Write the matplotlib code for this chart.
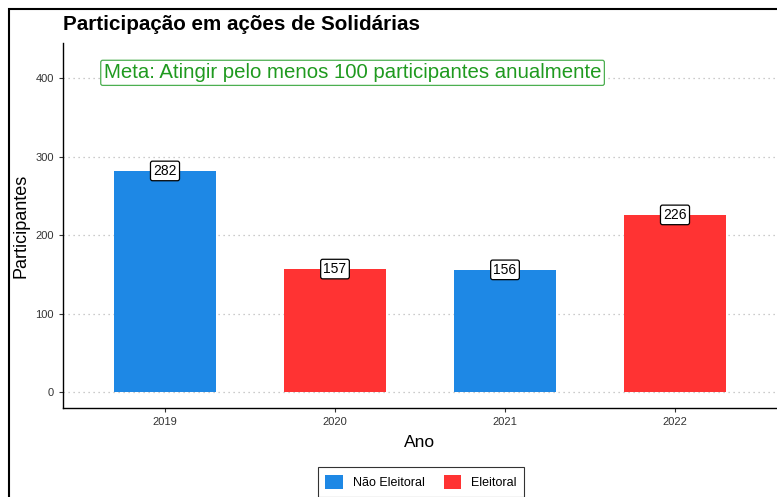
import matplotlib
matplotlib.use("Agg")
import matplotlib.pyplot as plt
from matplotlib.patches import Patch, Rectangle

plt.rcParams['font.family'] = ['Liberation Sans', 'DejaVu Sans']

anos = ["2019", "2020", "2021", "2022"]
participantes = [282, 157, 156, 226]
tipo = ["Não Eleitoral", "Eleitoral", "Não Eleitoral", "Eleitoral"]
cores = {"Não Eleitoral": "#1E88E5", "Eleitoral": "#FF3333"}
titulo = "Participação em ações de Solidárias"
meta = "Meta: Atingir pelo menos 100 participantes anualmente"

fig = plt.figure(figsize=(7.77, 4.97), dpi=100)
ax = fig.add_axes([63/777, 1-408/497, 1-63/777, (408-43)/497])

xs = list(range(1, len(anos) + 1))
ax.bar(xs, participantes, width=0.6, color=[cores[t] for t in tipo], zorder=2)
for x, v in zip(xs, participantes):
    ax.text(x, v, str(v), ha="center", va="center", fontsize=10, color="black",
            bbox=dict(boxstyle="round,pad=0.2,rounding_size=0.15", fc="white", ec="black", lw=0.9),
            zorder=4)

ax.text(0.64, 407, meta, ha="left", va="center", fontsize=14.7, color="#1F9A1F",
        bbox=dict(boxstyle="round,pad=0.15,rounding_size=0.1", fc="white", ec="#4CAF50", lw=0.9),
        zorder=4)

ax.set_xlim(0.4, 4.6)
ax.set_ylim(-20, 445)
ax.set_xticks(xs)
ax.set_xticklabels(anos)
ax.set_yticks([0, 100, 200, 300, 400])
ax.tick_params(axis="both", labelsize=8, colors="#333333", length=3, width=0.8)
ax.yaxis.grid(True, linestyle=(0, (1, 3)), color="#BBBBBB", lw=0.9, zorder=0)
ax.set_axisbelow(True)
for s in ["top", "right"]:
    ax.spines[s].set_visible(False)
for s in ["left", "bottom"]:
    ax.spines[s].set_color("black")
    ax.spines[s].set_linewidth(1.0)

ax.set_xlabel("Ano", fontsize=12.5, labelpad=6)
ax.set_ylabel("Participantes", fontsize=13, labelpad=4)
fig.text(63/777, 1-25/497, titulo, fontsize=14.9, fontweight="bold", ha="left", va="center")

handles = [Patch(facecolor=cores[k], edgecolor="none", label=k) for k in ["Não Eleitoral", "Eleitoral"]]
leg = fig.legend(handles=handles, loc="center", bbox_to_anchor=(421/777, 1-482/497), ncol=2,
                 frameon=True, fancybox=False, edgecolor="black", fontsize=9,
                 handlelength=1.4, handleheight=1.4, columnspacing=1.5, borderpad=0.6)
leg.get_frame().set_linewidth(0.8)

fig.patches.append(Rectangle((9/777, -0.1), 1.2, 1-9/497+0.1, transform=fig.transFigure,
                             fill=False, ec="black", lw=1.5))

fig.savefig("out.png", dpi=100)
